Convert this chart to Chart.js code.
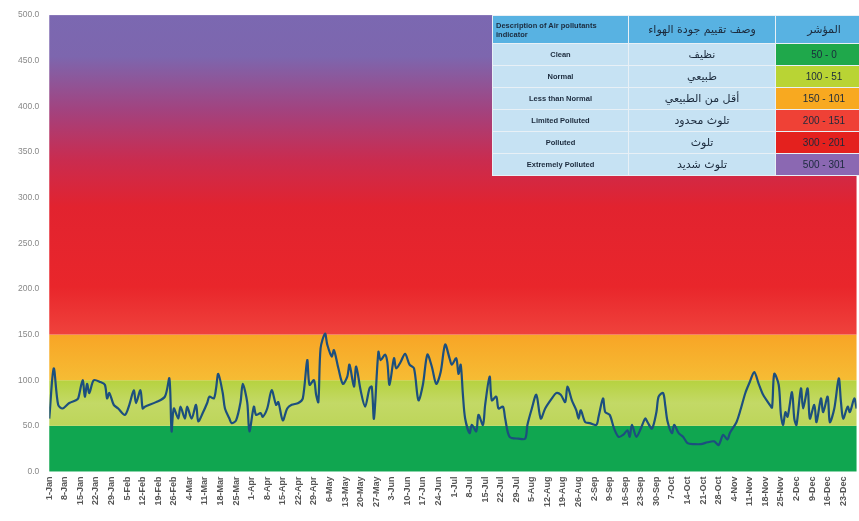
<!DOCTYPE html>
<html>
<head>
<meta charset="utf-8">
<script src="https://cdn.jsdelivr.net/npm/chart.js@4/dist/chart.umd.min.js"></script>
<style>
  body { margin: 0; background: #fff; }
  #wrap { position: relative; width: 859px; height: 521px; overflow: hidden; }
  #legendTable {
    position: absolute; left: 492px; top: 15px;
    border-collapse: collapse; table-layout: fixed; width: 380px;
    font-family: "Liberation Sans", "DejaVu Sans", sans-serif;
  }
  #legendTable td { border: 1px solid #e8f0f6; height: 21px; padding: 0; text-align: center; color: #1b2a3c; }
  #legendTable tr.head td { height: 27px; background: #58b2e2; }
  #legendTable td.en { font-size: 7.5px; font-weight: bold; background: #c6e2f3; }
  #legendTable td.ar { font-size: 11px; background: #c6e2f3; font-family: "DejaVu Sans", sans-serif; }
  #legendTable td.rg { font-size: 10px; }
  #legendTable tr.head td.en { text-align: left; padding-left: 3px; padding-right: 20px; line-height: 9px; background: #58b2e2; }
  #legendTable tr.head td.ar { background: #58b2e2; }
</style>
</head>
<body>
<div id="wrap">
  <canvas id="aqiChart" width="859" height="521"></canvas>
  <table id="legendTable">
    <colgroup><col style="width:136px"><col style="width:147px"><col style="width:97px"></colgroup>
    <tbody id="legendBody"></tbody>
  </table>
</div>
<script>
// weekly tick labels (leap year, 1-Jan .. 23-Dec)
const weekLabels = ["1-Jan","8-Jan","15-Jan","22-Jan","29-Jan","5-Feb","12-Feb","19-Feb","26-Feb","4-Mar",
  "11-Mar","18-Mar","25-Mar","1-Apr","8-Apr","15-Apr","22-Apr","29-Apr","6-May","13-May",
  "20-May","27-May","3-Jun","10-Jun","17-Jun","24-Jun","1-Jul","8-Jul","15-Jul","22-Jul",
  "29-Jul","5-Aug","12-Aug","19-Aug","26-Aug","2-Sep","9-Sep","16-Sep","23-Sep","30-Sep",
  "7-Oct","14-Oct","21-Oct","28-Oct","4-Nov","11-Nov","18-Nov","25-Nov","2-Dec","9-Dec",
  "16-Dec","23-Dec"];

// day of year (0 = 1-Jan) and the air quality index read at that day
const days = [0,2,4,6,9,12,13,15,16,17,18,20,23,25,26,27,29,31,34,36,
  38,39,41,42,43,48,52,54,55,56,58,59,61,62,64,66,67,69,71,72,
  74,75,76,78,79,81,82,84,86,87,89,90,92,93,95,96,98,100,102,103,
  105,107,109,112,114,116,117,119,120,121,122,124,125,127,128,130,132,134,135,137,
  138,140,142,144,145,146,148,149,151,152,153,155,156,158,160,162,164,166,168,170,
  172,174,176,178,180,181,183,184,185,186,187,189,190,192,193,195,196,198,199,201,
  202,204,205,207,211,214,215,217,219,221,223,226,228,230,232,233,235,237,238,239,
  241,243,246,247,249,250,252,254,256,258,260,261,262,264,266,268,269,271,273,274,
  276,277,278,280,281,283,285,287,290,293,296,299,301,303,305,306,309,311,313,315,
  317,319,321,324,325,326,328,329,330,331,332,334,335,336,338,339,341,342,344,345,
  347,348,350,351,353,355,356,357,359,360,362,363];
const aqi = [58,113,73,69,75,78,80,100,82,96,86,100,98,95,80,86,73,69,62,73,
  89,75,89,69,71,76,82,102,44,69,58,71,58,71,58,73,55,64,75,82,
  80,91,107,86,69,58,53,56,76,96,76,44,71,62,64,60,69,89,73,76,
  56,69,73,75,80,122,95,100,84,76,135,151,139,126,133,113,96,104,117,93,
  115,89,71,91,93,58,131,122,128,120,95,124,113,120,129,117,113,78,95,128,
  115,96,109,139,124,117,124,107,117,84,58,42,51,44,62,51,73,104,78,82,
  69,71,58,38,36,36,51,69,84,58,69,80,86,84,76,93,78,67,58,67,
  54,53,51,60,80,65,62,47,38,40,45,38,51,38,47,58,54,47,65,82,
  86,72,55,42,51,42,38,31,30,30,32,33,29,40,35,42,54,69,86,98,
  109,96,84,73,70,107,95,62,51,65,60,87,58,51,91,69,91,58,73,54,
  80,65,82,54,69,102,76,58,71,65,80,69];

const yTicks = [0, 50, 100, 150, 200, 250, 300, 350, 400, 450, 500];

// legend table contents
const descEn = ["Clean","Normal","Less than Normal","Limited Polluted","Polluted","Extremely Polluted"];
const descAr = ["نظيف","طبيعي","أقل من الطبيعي","تلوث محدود","تلوث","تلوث شديد"];
const ranges = ["50 - 0","100 - 51","150 - 101","200 - 151","300 - 201","500 - 301"];
const rangeColors = ["#1fa84b","#b9d434","#f8a920","#ef4136","#e4211e","#8b68b2"];

const body = document.getElementById("legendBody");
body.innerHTML = `<tr class="head"><td class="en">Description of Air pollutants indicator</td>
  <td class="ar">وصف تقييم جودة الهواء</td><td class="ar">المؤشر</td></tr>`;
descEn.forEach((d, i) => {
  body.innerHTML += `<tr><td class="en">${d}</td><td class="ar">${descAr[i]}</td>
    <td class="rg" style="background:${rangeColors[i]}">${ranges[i]}</td></tr>`;
});

// coloured quality zones behind the line
const zoneBg = {
  id: "zoneBg",
  beforeDraw(chart) {
    const { ctx, chartArea: a, scales: { y } } = chart;
    const w = a.right - a.left;
    const py = v => y.getPixelForValue(v);
    ctx.save();
    // 0-50
    ctx.fillStyle = "#10a650";
    ctx.fillRect(a.left, py(50), w, py(0) - py(50));
    // 50-100
    let g = ctx.createLinearGradient(0, py(100), 0, py(50));
    g.addColorStop(0, "#b6d23f");
    g.addColorStop(0.5, "#c3d966");
    g.addColorStop(1, "#bdd55a");
    ctx.fillStyle = g;
    ctx.fillRect(a.left, py(100), w, py(50) - py(100));
    // 100-150
    g = ctx.createLinearGradient(0, py(150), 0, py(100));
    g.addColorStop(0, "#f8a526");
    g.addColorStop(1, "#f6bc34");
    ctx.fillStyle = g;
    ctx.fillRect(a.left, py(150), w, py(100) - py(150));
    // 150-500
    g = ctx.createLinearGradient(0, py(500), 0, py(150));
    g.addColorStop(0, "#7b68b1");
    g.addColorStop(0.13, "#7d66ae");
    g.addColorStop(0.3, "#a3427e");
    g.addColorStop(0.45, "#c92c50");
    g.addColorStop(0.6, "#e2232f");
    g.addColorStop(0.85, "#e9262b");
    g.addColorStop(1, "#ef423c");
    ctx.fillStyle = g;
    ctx.fillRect(a.left, py(500), w, py(150) - py(500));
    ctx.restore();
  }
};

new Chart(document.getElementById("aqiChart"), {
  type: "line",
  data: {
    datasets: [{
      data: days.map((d, i) => ({ x: d, y: aqi[i] })),
      borderColor: "#1c4f7e",
      borderWidth: 2.2,
      pointRadius: 0,
      tension: 0.3,
      fill: false
    }]
  },
  options: {
    responsive: false,
    animation: false,
    layout: { padding: { left: 8, top: 11, right: 0, bottom: 9 } },
    plugins: { legend: { display: false }, tooltip: { enabled: false } },
    scales: {
      x: {
        type: "linear",
        min: 0,
        max: 363,
        grid: { display: false, drawTicks: false },
        border: { display: false },
        ticks: {
          stepSize: 7,
          includeBounds: false,
          autoSkip: false,
          minRotation: 90,
          maxRotation: 90,
          padding: 5,
          color: "#555",
          font: { family: "Liberation Sans", size: 9, weight: "bold" },
          callback: v => weekLabels[v / 7]
        }
      },
      y: {
        min: 0,
        max: 500,
        afterBuildTicks: s => { s.ticks = yTicks.map(v => ({ value: v })); },
        grid: { display: false, drawTicks: false },
        border: { display: false },
        ticks: {
          padding: 10,
          color: "#888",
          font: { family: "Liberation Sans", size: 8.5 },
          callback: v => v.toFixed(1)
        }
      }
    }
  },
  plugins: [zoneBg]
});
</script>
</body>
</html>
